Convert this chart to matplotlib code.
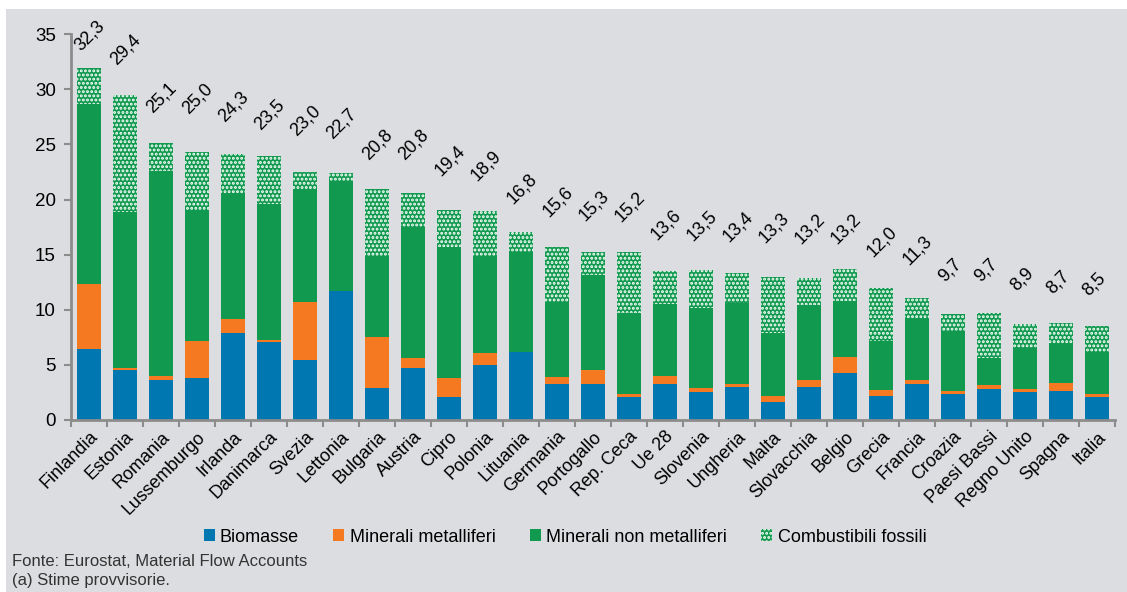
import numpy as np
import matplotlib
matplotlib.use("Agg")
import matplotlib.pyplot as plt
from matplotlib.patches import Patch

countries = ["Finlandia", "Estonia", "Romania", "Lussemburgo", "Irlanda", "Danimarca", "Svezia",
             "Lettonia", "Bulgaria", "Austria", "Cipro", "Polonia", "Lituania", "Germania",
             "Portogallo", "Rep. Ceca", "Ue 28", "Slovenia", "Ungheria", "Malta", "Slovacchia",
             "Belgio", "Grecia", "Francia", "Croazia", "Paesi Bassi", "Regno Unito", "Spagna", "Italia"]
biomasse = [6.4, 4.5, 3.6, 3.8, 7.9, 7.1, 5.4, 11.7, 2.9, 4.7, 2.1, 5.0, 6.2, 3.3,
            3.3, 2.1, 3.3, 2.5, 3.0, 1.6, 3.0, 4.3, 2.2, 3.3, 2.4, 2.8, 2.5, 2.6, 2.1]
metalliferi = [5.9, 0.2, 0.4, 3.4, 1.3, 0.2, 5.3, 0.0, 4.6, 0.9, 1.7, 1.1, 0.0, 0.6,
               1.2, 0.3, 0.7, 0.4, 0.3, 0.6, 0.6, 1.4, 0.5, 0.3, 0.2, 0.4, 0.3, 0.8, 0.3]
non_metalliferi = [16.4, 14.2, 18.6, 11.9, 11.3, 12.3, 10.2, 9.9, 7.4, 11.9, 11.9, 8.7, 9.0, 6.8,
                   8.7, 7.3, 6.5, 7.3, 7.3, 5.7, 6.8, 5.1, 4.5, 5.6, 5.4, 2.4, 3.7, 3.5, 3.8]
fossili = [3.2, 10.6, 2.5, 5.2, 3.6, 4.4, 1.6, 0.8, 6.1, 3.1, 3.4, 4.2, 1.9, 5.0,
           2.0, 5.5, 3.0, 3.4, 2.7, 5.1, 2.5, 2.9, 4.8, 1.9, 1.6, 4.1, 2.2, 1.9, 2.3]
totali = [32.3, 29.4, 25.1, 25.0, 24.3, 23.5, 23.0, 22.7, 20.8, 20.8, 19.4, 18.9, 16.8, 15.6,
          15.3, 15.2, 13.6, 13.5, 13.4, 13.3, 13.2, 13.2, 12.0, 11.3, 9.7, 9.7, 8.9, 8.7, 8.5]

C_BIO, C_MET, C_NON = "#0077b0", "#f47920", "#119a4f"
BG = "#dcdde0"
NARROW = ["Liberation Sans Narrow", "Liberation Sans", "DejaVu Sans"]
plt.rcParams["font.family"] = ["Liberation Sans", "DejaVu Sans"]
plt.rcParams["hatch.linewidth"] = 1.4

fig = plt.figure(figsize=(11.27, 5.92), dpi=100)
fig.patches.append(plt.Rectangle((6 / 1127, 0), 1, 1 - 9 / 592, transform=fig.transFigure,
                                 facecolor=BG, edgecolor="none", zorder=-10))
ax = fig.add_axes([71 / 1127, 172 / 592, 1044 / 1127, 385.7 / 592])
ax.set_facecolor(BG)

x = np.arange(len(countries))
b = np.array(biomasse); m = np.array(metalliferi); n = np.array(non_metalliferi); f = np.array(fossili)
w = 0.67
ax.bar(x, b, w, color=C_BIO, lw=0)
ax.bar(x, m, w, bottom=b, color=C_MET, lw=0)
ax.bar(x, n, w, bottom=b + m, color=C_NON, lw=0)
ax.bar(x, f, w, bottom=b + m + n, color=C_NON, edgecolor="white", lw=0, hatch="....")

# totals: rotated labels above the bars (Finlandia pushed down to stay under the top)
for i, t in enumerate(totali):
    ax.text(i - 0.16, min(t + 2.5, 33.2), f"{t:.1f}".replace(".", ","), rotation=45,
            rotation_mode="anchor", ha="left", va="bottom", fontsize=13, clip_on=False)

ax.set_xlim(-0.5, len(countries) - 0.5)
ax.set_ylim(0, 35)
ax.set_yticks(range(0, 36, 5))
ax.tick_params(axis="y", labelsize=13.5, length=5, width=1.5, color="#8c8c8c", pad=6)
ax.set_xticks(x)
ax.set_xticklabels(countries, rotation=45, ha="right", va="top", rotation_mode="anchor", fontsize=13)
ax.tick_params(axis="x", length=0, pad=6)
ax.set_xticks(np.arange(-0.5, len(countries), 1), minor=True)
ax.tick_params(axis="x", which="minor", length=5, width=1.5, color="#8c8c8c")
for s in ("top", "right"):
    ax.spines[s].set_visible(False)
for s in ("left", "bottom"):
    ax.spines[s].set_color("#8c8c8c"); ax.spines[s].set_linewidth(2)

handles = [Patch(facecolor=C_BIO, label="Biomasse"),
           Patch(facecolor=C_MET, label="Minerali metalliferi"),
           Patch(facecolor=C_NON, label="Minerali non metalliferi"),
           Patch(facecolor=C_NON, edgecolor="white", lw=0, hatch="....", label="Combustibili fossili")]
fig.legend(handles=handles, loc="center", bbox_to_anchor=(565 / 1127, 1 - 537 / 592), ncol=4,
           frameon=False, prop={"family": NARROW, "size": 13}, handlelength=0.6, handleheight=0.6,
           handletextpad=0.3, columnspacing=1.9)
fig.text(12 / 1127, 1 - 562 / 592, "Fonte: Eurostat, Material Flow Accounts", family=NARROW,
         fontsize=12, color="#333333", va="center")
fig.text(12 / 1127, 1 - 580 / 592, "(a) Stime provvisorie.", family=NARROW,
         fontsize=12, color="#333333", va="center")

fig.savefig("out.png", dpi=100, facecolor="white")
